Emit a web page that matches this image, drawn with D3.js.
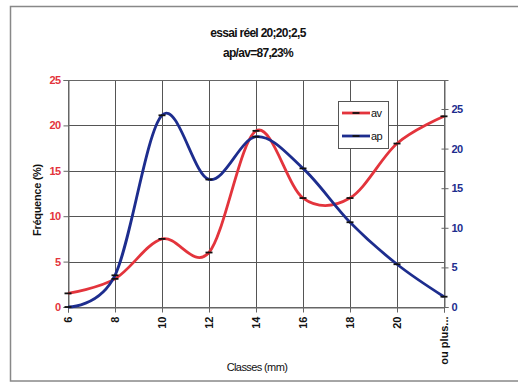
<!DOCTYPE html>
<html><head><meta charset="utf-8">
<script src="https://cdn.jsdelivr.net/npm/d3@7"></script>
<style>body{margin:0;background:#fff;} text{font-family:"Liberation Sans",Arial,sans-serif;}</style>
</head><body>
<script>
const categories = ["6","8","10","12","14","16","18","20","ou plus..."];
const avValues = [1.5, 3.1, 7.5, 6.0, 19.4, 12.0, 12.0, 18.0, 21.0];
const apValues = [0.0, 4.0, 24.2, 16.1, 21.5, 17.5, 10.7, 5.4, 1.3];
const leftTicks = [0,5,10,15,20,25];
const rightTicks = [0,5,10,15,20,25];
const titleLines = ["essai réel 20;20;2,5", "ap/av=87,23%"];

const W = 518, H = 384;
const m = {left:68, right:444, top:80, bottom:307};
const svg = d3.select("body").append("svg").attr("width",W).attr("height",H);
const red = "#e3343c", blue = "#1d2d8e";

// outer border
svg.append("rect").attr("x",10.5).attr("y",6.5).attr("width",520).attr("height",374.5)
  .attr("fill","none").attr("stroke","#888").attr("stroke-width",1.5);

const x = d3.scalePoint().domain(categories).range([m.left, m.right]);
const yL = d3.scaleLinear().domain([0,25]).range([m.bottom, m.top]);
const yR = d3.scaleLinear().domain([0,28.66]).range([m.bottom, m.top]);

// grid
const g = svg.append("g");
g.selectAll(".hg").data(leftTicks).join("line")
  .attr("x1",m.left).attr("x2",m.right).attr("y1",d=>Math.round(yL(d))+0.5).attr("y2",d=>Math.round(yL(d))+0.5)
  .attr("stroke","#555").attr("stroke-width",1);
g.selectAll(".vg").data(categories).join("line")
  .attr("x1",d=>Math.round(x(d))+0.5).attr("x2",d=>Math.round(x(d))+0.5).attr("y1",m.top).attr("y2",m.bottom)
  .attr("stroke","#555").attr("stroke-width",1);
svg.append("rect").attr("x",m.left+0.5).attr("y",m.top+0.5).attr("width",m.right-m.left).attr("height",m.bottom-m.top)
  .attr("fill","none").attr("stroke","#666");

// left axis
const la = svg.append("g").attr("transform",`translate(${m.left+0.5},0)`)
  .call(d3.axisLeft(yL).tickValues(leftTicks).tickSize(5).tickPadding(3));
la.select(".domain").attr("stroke","#666");
la.selectAll(".tick line").attr("stroke","#666");
la.selectAll("text").attr("fill",red).attr("font-size","11px").attr("font-weight","bold").attr("letter-spacing","-0.6px");

// right axis
const ra = svg.append("g").attr("transform",`translate(${m.right+0.5},0)`)
  .call(d3.axisRight(yR).tickValues(rightTicks).tickSize(4).tickPadding(3));
ra.select(".domain").attr("stroke","#666");
ra.selectAll(".tick line").attr("stroke","#666").attr("x1",-3);
ra.selectAll("text").attr("fill",blue).attr("font-size","11px").attr("font-weight","bold").attr("letter-spacing","-0.6px");

// bottom axis
const ba = svg.append("g").attr("transform",`translate(0,${m.bottom+0.5})`)
  .call(d3.axisBottom(x).tickSize(5).tickPadding(3));
ba.select(".domain").attr("stroke","#666");
ba.selectAll(".tick line").attr("stroke","#666");
ba.selectAll("text").attr("fill","#111").attr("font-size","11px").attr("font-weight","bold")
  .attr("transform","rotate(-90)").attr("text-anchor","end").attr("dy","0.35em").attr("x",-9).attr("y",0);

// lines (Excel-like smoothing)
const lineL = d3.line().x((d,i)=>x(categories[i])).y(d=>yL(d)).curve(d3.curveCardinal.tension(0));
const lineR = d3.line().x((d,i)=>x(categories[i])).y(d=>yR(d)).curve(d3.curveCardinal.tension(0));
svg.append("path").attr("d",lineL(avValues)).attr("fill","none").attr("stroke",red).attr("stroke-width",2.8);
svg.append("path").attr("d",lineR(apValues)).attr("fill","none").attr("stroke",blue).attr("stroke-width",2.8);
// dash markers
svg.selectAll(".mL").data(avValues).join("line")
  .attr("x1",(d,i)=>x(categories[i])-3.5).attr("x2",(d,i)=>x(categories[i])+3.5)
  .attr("y1",d=>yL(d)).attr("y2",d=>yL(d)).attr("stroke","#111").attr("stroke-width",1.8);
svg.selectAll(".mR").data(apValues).join("line")
  .attr("x1",(d,i)=>x(categories[i])-3.5).attr("x2",(d,i)=>x(categories[i])+3.5)
  .attr("y1",d=>yR(d)).attr("y2",d=>yR(d)).attr("stroke","#111").attr("stroke-width",1.8);

// legend
const lg = svg.append("g");
lg.append("rect").attr("x",338.5).attr("y",101.5).attr("width",50).attr("height",47)
  .attr("fill","#fff").attr("stroke","#555");
[["av",red,113],["ap",blue,136]].forEach(([t,c,yy])=>{
  lg.append("line").attr("x1",342).attr("x2",370).attr("y1",yy).attr("y2",yy).attr("stroke",c).attr("stroke-width",2.8);
  lg.append("line").attr("x1",352.5).attr("x2",359.5).attr("y1",yy).attr("y2",yy).attr("stroke","#111").attr("stroke-width",1.8);
  lg.append("text").attr("x",371).attr("y",yy+4).attr("font-size","11px").attr("fill","#111").attr("letter-spacing","-0.5px").text(t);
});

// titles
svg.selectAll(".tt").data(titleLines).join("text")
  .attr("x",258).attr("y",(d,i)=>37+i*20).attr("text-anchor","middle")
  .attr("font-size","12px").attr("font-weight","bold").attr("letter-spacing","-0.7px").attr("fill","#111").text(d=>d);

svg.append("text").attr("transform","translate(41,200) rotate(-90)").attr("text-anchor","middle")
  .attr("font-size","11px").attr("font-weight","bold").attr("letter-spacing","-0.3px").attr("fill","#111").text("Fréquence (%)");
svg.append("text").attr("x",257).attr("y",371).attr("text-anchor","middle")
  .attr("font-size","11px").attr("letter-spacing","-0.6px").attr("fill","#111").text("Classes (mm)");
</script>
</body></html>
